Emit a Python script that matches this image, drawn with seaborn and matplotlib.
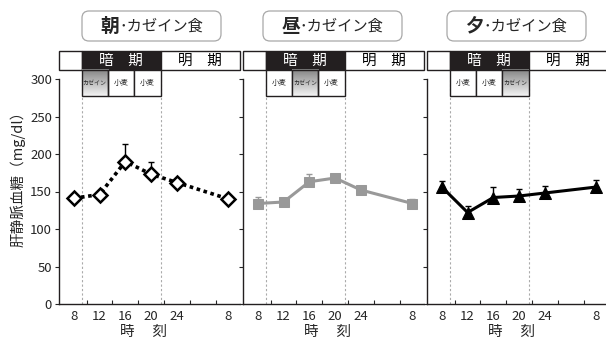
import numpy as np
import seaborn as sns
import matplotlib.pyplot as plt
from matplotlib.patches import Rectangle, FancyBboxPatch
from matplotlib.transforms import IdentityTransform
from matplotlib.colors import LinearSegmentedColormap

hours = [8, 12, 16, 20, 24, 32]
hour_labels = ["8", "12", "16", "20", "24", "8"]
title_heads = ["朝", "昼", "夕"]
title_tail = "･カゼイン食"
glucose = [
    [141, 146, 190, 173, 162, 140],   # 朝・カゼイン食
    [134, 136, 163, 168, 152, 134],   # 昼・カゼイン食
    [156, 122, 142, 144, 148, 156],   # 夕・カゼイン食
]
glucose_err = [
    [3, 5, 23, 16, 3, 3],
    [9, 3, 10, 5, 4, 6],
    [8, 9, 14, 9, 9, 9],
]
diets = [
    ["カゼイン", "小麦", "小麦"],
    ["小麦", "カゼイン", "小麦"],
    ["小麦", "小麦", "カゼイン"],
]
dark_start, dark_end = 9.2, 21.5

line_styles = [
    dict(color="black", linestyle=(0, (1, 1)), lw=2.6, marker="D", markersize=7,
         markerfacecolor="white", markeredgecolor="black", markeredgewidth=1.8),
    dict(color="#999999", linestyle="-", lw=2.2, marker="s", markersize=7,
         markerfacecolor="#999999", markeredgecolor="#999999"),
    dict(color="black", linestyle="-", lw=2.2, marker="^", markersize=9,
         markerfacecolor="black", markeredgecolor="black"),
]

sns.set_style("white")
plt.rcParams["font.family"] = ["Noto Sans CJK JP", "DejaVu Sans"]

W, H = 606, 343
fig = plt.figure(figsize=(W / 100, H / 100), dpi=100)

casein_cmap = LinearSegmentedColormap.from_list("casein", ["#858585", "#f2f2f2"])
xlim = (5.7, 33.8)
ylim = (0, 300)
lefts = [59, 243, 427]
box_lefts = [82, 263, 447]

for i in range(3):
    x0 = lefts[i]
    ax = fig.add_axes([x0 / W, 1 - 304 / H, 181 / W, 225 / H])

    for xd in (dark_start, dark_end):
        ax.axvline(xd, color="#aaaaaa", ls=(0, (2, 2)), lw=0.8, zorder=1)

    ax.errorbar(hours, glucose[i], yerr=[np.zeros(6), glucose_err[i]], fmt="none",
                ecolor=line_styles[i]["color"], elinewidth=1, capsize=2.5, capthick=1, zorder=2)
    sns.lineplot(x=hours, y=glucose[i], ax=ax, zorder=3, **line_styles[i])

    # header: light/dark periods
    hdr = [(xlim[0], dark_start, "white", ""), (dark_start, dark_end, "#231f20", "暗　期"),
           (dark_end, xlim[1], "white", "明　期")]
    for a, b, fc, txt in hdr:
        ax.add_patch(Rectangle((a, 312), b - a, 25.3, facecolor=fc, edgecolor="#231f20",
                               lw=1, clip_on=False, zorder=5))
        if txt:
            ax.text((a + b) / 2, 324.5, txt, ha="center", va="center", fontsize=10.5,
                    color="white" if fc != "white" else "black", zorder=7, clip_on=False)

    # diet boxes
    step = (dark_end - dark_start) / 3
    for k, d in enumerate(diets[i]):
        a = dark_start + k * step
        if d == "カゼイン":
            ax.imshow(np.linspace(0, 1, 30).reshape(-1, 1), extent=[a, a + step, 277.3, 312],
                      cmap=casein_cmap, aspect="auto", origin="upper", zorder=5, clip_on=False)
            ax.add_patch(Rectangle((a, 277.3), step, 34.7, facecolor="none", edgecolor="#231f20",
                                   lw=1, clip_on=False, zorder=6))
            fs = 4.3
        else:
            ax.add_patch(Rectangle((a, 277.3), step, 34.7, facecolor="white", edgecolor="#231f20",
                                   lw=1, clip_on=False, zorder=5))
            fs = 5.4
        ax.text(a + step / 2, 294.5, d, ha="center", va="center", fontsize=fs, zorder=7,
                clip_on=False)

    ax.set_xlim(*xlim)
    ax.set_ylim(*ylim)
    ax.set_xticks(hours, hour_labels)
    ax.set_xticks([10, 14, 18, 22, 26, 30], minor=True)
    ax.tick_params(axis="x", which="major", length=0, pad=4, labelsize=9.5)
    ax.tick_params(axis="x", which="minor", direction="in", length=3, width=0.8, bottom=True)
    ax.set_yticks(range(0, 301, 50))
    ax.tick_params(axis="y", direction="out", length=3, width=0.8, left=True, pad=2,
                   labelsize=9.5, labelleft=(i == 0))
    sns.despine(ax=ax)
    for s in ("left", "bottom"):
        ax.spines[s].set_color("#231f20")
        ax.spines[s].set_linewidth(1)
    if i == 0:
        ax.set_ylabel("肝静脈血糖（mg/dl）", fontsize=10.5, labelpad=3, y=0.57)
    ax.text(18.8, -0.125, "時　 刻", transform=ax.get_xaxis_transform(), ha="center",
            va="center", fontsize=10.5)

    # title box
    bl = box_lefts[i]
    fig.add_artist(FancyBboxPatch((bl, H - 41), 139, 30, boxstyle="round,pad=0,rounding_size=7",
                                  transform=IdentityTransform(), facecolor="white",
                                  edgecolor="#a8a8a8", lw=0.9))
    fig.text((bl + 37) / W, 1 - 26 / H, title_heads[i], ha="right", va="center",
             fontsize=13.5, fontweight="bold")
    fig.text((bl + 37) / W, 1 - 26 / H, title_tail, ha="left", va="center", fontsize=11)

fig.savefig("out.png", dpi=100)
